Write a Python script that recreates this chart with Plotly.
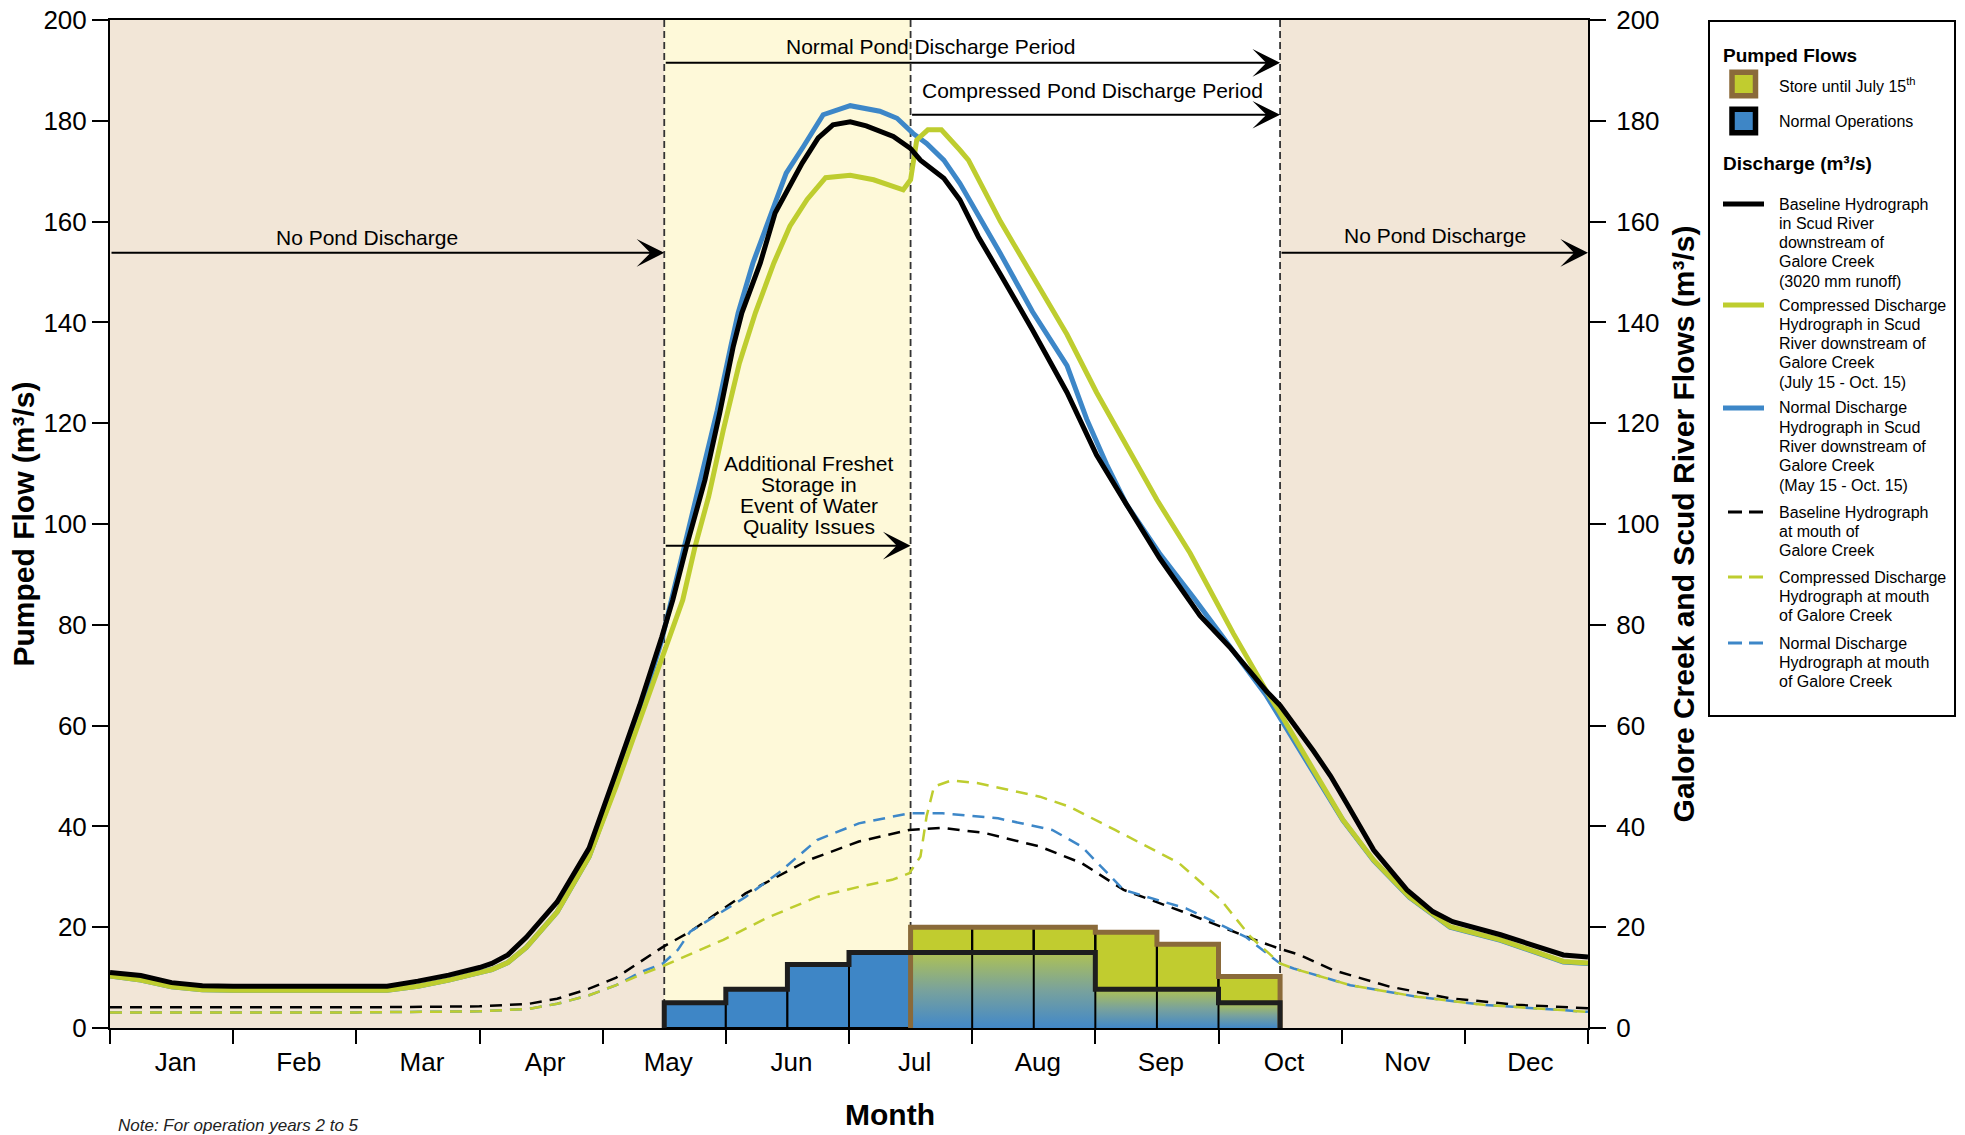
import plotly.graph_objects as go

FONT = "Liberation Sans, Arial, Helvetica, sans-serif"

# ------------------------------------------------------------------ data
months = ["Jan", "Feb", "Mar", "Apr", "May", "Jun", "Jul", "Aug", "Sep", "Oct", "Nov", "Dec"]

# month index scale: 0 = 1 Jan, 12 = 31 Dec
may15, jul15, oct15 = 4.5, 6.5, 9.5

# pumped flows in half-month bins (m3/s)
pump_bin_start = [4.5, 5.0, 5.5, 6.0, 6.5, 7.0, 7.5, 8.0, 8.5, 9.0]
pump_bin_width = 0.5
normal_ops = [5.0, 7.7, 12.6, 15.0, 15.0, 15.0, 15.0, 7.7, 7.7, 5.0]
store_jul15 = [0.0, 0.0, 0.0, 0.0, 20.0, 20.0, 20.0, 19.0, 16.6, 10.2]

# Scud River downstream of Galore Creek
base_scud_t = [0, 0.25, 0.5, 0.75, 1.0, 2.25, 2.5, 2.75, 3.0, 3.1, 3.23, 3.38, 3.63, 3.89, 4.11, 4.3,
               4.48, 4.57, 4.68, 4.83, 4.95, 5.06, 5.13, 5.28, 5.4, 5.51, 5.62, 5.75, 5.87, 6.01, 6.14,
               6.36, 6.5, 6.58, 6.77, 6.9, 7.05, 7.23, 7.49, 7.77, 8.01, 8.25, 8.52, 8.85, 9.09, 9.39,
               9.5, 9.77, 9.91, 10.04, 10.26, 10.53, 10.74, 10.9, 11.29, 11.8, 12.0]
base_scud_q = [11.0, 10.4, 9.0, 8.4, 8.3, 8.3, 9.3, 10.5, 12.0, 12.8, 14.5, 18.0, 25.0, 35.7, 50.8, 64.0,
               77.6, 85.0, 95.5, 108.7, 122.0, 135.2, 141.9, 151.8, 161.7, 166.9, 171.6, 176.6, 179.2, 179.8, 179.0,
               176.9, 174.5, 172.2, 168.6, 164.3, 157.0, 149.5, 138.5, 126.1, 113.7, 104.0, 93.3, 81.8, 75.6, 66.8,
               64.0, 55.0, 50.0, 44.6, 35.3, 27.4, 23.1, 21.1, 18.5, 14.5, 14.1]

comp_scud_t = [0, 0.25, 0.5, 0.75, 1.0, 2.25, 2.5, 2.75, 3.0, 3.1, 3.23, 3.38, 3.63, 3.89, 4.11, 4.3,
               4.48, 4.65, 4.75, 4.86, 4.98, 5.11, 5.24, 5.39, 5.52, 5.66, 5.81, 6.01, 6.2, 6.36, 6.44,
               6.5, 6.55, 6.64, 6.75, 6.9, 6.97, 7.23, 7.49, 7.77, 8.01, 8.25, 8.5, 8.77, 9.12, 9.39,
               9.5, 9.8, 10.01, 10.26, 10.55, 10.88, 11.29, 11.8, 12.0]
comp_scud_q = [10.3, 9.5, 8.2, 7.6, 7.5, 7.5, 8.3, 9.5, 11.0, 11.6, 13.0, 16.0, 23.0, 34.0, 48.0, 61.0,
               73.0, 84.9, 95.5, 105.4, 118.7, 131.9, 141.9, 151.8, 159.1, 164.4, 168.7, 169.2, 168.3, 167.1, 166.3,
               168.3, 176.2, 178.2, 178.2, 174.2, 172.2, 160.0, 149.2, 137.6, 126.1, 115.5, 104.8, 94.2, 78.3, 66.8,
               62.5, 50.0, 41.3, 33.3, 26.0, 20.1, 17.5, 13.2, 12.9]

norm_scud_t = [0, 0.25, 0.5, 0.75, 1.0, 2.25, 2.5, 2.75, 3.0, 3.1, 3.23, 3.38, 3.63, 3.89, 4.11, 4.3,
               4.48, 4.57, 4.67, 4.81, 4.93, 5.04, 5.1, 5.22, 5.37, 5.49, 5.63, 5.79, 6.01, 6.25, 6.39,
               6.52, 6.63, 6.77, 6.9, 7.12, 7.23, 7.49, 7.77, 7.93, 8.09, 8.25, 8.52, 8.8, 9.12, 9.39,
               9.5, 9.8, 10.01, 10.26, 10.55, 10.88, 11.29, 11.8, 12.0]
norm_scud_q = [10.3, 9.5, 8.2, 7.6, 7.5, 7.5, 8.3, 9.5, 11.0, 11.6, 13.0, 16.0, 23.0, 34.0, 48.5, 62.5,
               77.0, 86.0, 97.0, 110.0, 122.5, 135.2, 141.9, 151.8, 161.7, 169.6, 174.9, 181.2, 183.0, 181.9, 180.5,
               177.5, 175.5, 172.2, 167.6, 158.3, 153.6, 142.1, 131.4, 120.8, 111.9, 104.0, 94.2, 85.3, 74.8, 65.9,
               61.5, 49.8, 41.2, 33.2, 25.9, 20.0, 17.4, 13.1, 12.8]

# mouth of Galore Creek
base_mouth_t = [0, 1, 2, 3, 3.4, 3.63, 3.89, 4.11, 4.3, 4.49, 4.71, 5.16, 5.67, 6.08, 6.49, 6.76, 7.1,
                7.55, 7.89, 8.23, 8.74, 9.26, 9.5, 9.66, 9.93, 10.39, 10.88, 11.42, 12.0]
base_mouth_q = [4.1, 4.1, 4.1, 4.3, 4.8, 5.8, 7.8, 10.0, 13.0, 16.1, 19.1, 26.7, 33.3, 37.0, 39.3, 39.7, 38.7,
                36.0, 32.7, 27.4, 22.8, 17.8, 15.7, 14.5, 11.5, 8.2, 5.9, 4.6, 3.9]

comp_mouth_t = [0, 1, 2, 3, 3.4, 3.63, 3.89, 4.11, 4.3, 4.49, 4.98, 5.33, 5.74, 6.08, 6.35, 6.49, 6.58,
                6.63, 6.69, 6.83, 7.04, 7.55, 7.79, 8.16, 8.68, 9.02, 9.26, 9.5, 9.61, 10.07, 10.61, 11.15, 12.0]
comp_mouth_q = [3.1, 3.1, 3.1, 3.3, 3.8, 4.8, 6.5, 8.5, 10.5, 12.3, 17.5, 21.8, 26.0, 28.0, 29.4, 30.7, 34.0,
                42.0, 47.9, 49.1, 48.6, 45.9, 43.9, 39.3, 32.7, 25.4, 18.1, 12.8, 11.8, 8.5, 6.2, 4.6, 3.2]

norm_mouth_t = [0, 1, 2, 3, 3.4, 3.63, 3.89, 4.11, 4.3, 4.49, 4.61, 4.71, 5.16, 5.43, 5.74, 6.08, 6.49,
                6.76, 7.21, 7.65, 7.89, 8.23, 8.74, 9.22, 9.5, 9.61, 10.07, 10.61, 11.15, 12.0]
norm_mouth_q = [3.1, 3.1, 3.1, 3.3, 3.8, 4.8, 6.5, 8.5, 11.0, 12.8, 15.5, 19.1, 26.0, 30.8, 37.3, 40.6, 42.6,
                42.6, 41.6, 39.3, 36.0, 27.4, 23.7, 18.1, 12.8, 11.8, 8.5, 6.2, 4.6, 3.2]

# ------------------------------------------------------------------ styles
TAN = "#F2E6D7"
YELLOW = "#FEF9D9"
BLUE = "#3D87C8"
GREEN = "#BECD2F"
GREEN_BAR = "#C1CC2F"
BLUE_BAR = "#3E86C6"
BROWN = "#8A6A3A"
GRAD = [[0.0, "#4288C9"], [0.5, "#79A29C"], [1.0, "#AFC253"]]

W, H = 1965, 1135
ML, MR, MT, MB = 110, 377, 20, 107
PW, PH = W - ML - MR, H - MT - MB


def px(x):
    return (x - ML) / PW


def py(y):
    return (H - MB - y) / PH


fig = go.Figure()

# ------------------------------------------------------------------ pumped flows (left axis)
w = pump_bin_width
store_idx = [i for i, v in enumerate(store_jul15) if v > 0]
blue_idx = [i for i, v in enumerate(store_jul15) if v == 0]

fig.add_trace(go.Bar(
    x=[pump_bin_start[i] + w / 2 for i in store_idx], y=[store_jul15[i] for i in store_idx],
    width=w, marker=dict(color=GREEN_BAR, line=dict(color="black", width=2)),
    name="Store until July 15th", showlegend=False))
fig.add_trace(go.Bar(
    x=[pump_bin_start[i] + w / 2 for i in blue_idx], y=[normal_ops[i] for i in blue_idx],
    width=w, marker=dict(color=BLUE_BAR, line=dict(color="black", width=2)),
    name="Normal Operations", showlegend=False))

# gradient part of normal operations where it overlaps stored flow
runs = []
for i in store_idx:
    if runs and runs[-1][2] == normal_ops[i]:
        runs[-1][1] = pump_bin_start[i] + w
    else:
        runs.append([pump_bin_start[i], pump_bin_start[i] + w, normal_ops[i]])
for x0, x1, v in runs:
    fig.add_trace(go.Scatter(
        x=[x0, x1], y=[v, v], mode="lines", line=dict(width=0), fill="tozeroy",
        fillgradient=dict(type="vertical", colorscale=GRAD),
        hoverinfo="skip", showlegend=False))

# thin dividers between half-month bins in the stored-flow block
div_x, div_y = [], []
for k in range(1, len(store_idx)):
    i = store_idx[k]
    top = max(store_jul15[i - 1], store_jul15[i])
    div_x += [pump_bin_start[i], pump_bin_start[i], None]
    div_y += [0, top, None]
fig.add_trace(go.Scatter(x=div_x, y=div_y, mode="lines", line=dict(color="black", width=2),
                         hoverinfo="skip", showlegend=False))


def step_outline(idx, vals):
    xs = [pump_bin_start[idx[0]]] + [pump_bin_start[i] for i in idx] + [pump_bin_start[idx[-1]] + w] * 2
    ys = [0] + [vals[i] for i in idx] + [vals[idx[-1]], 0]
    return xs, ys


sx, sy = step_outline(store_idx, store_jul15)
fig.add_trace(go.Scatter(x=sx, y=sy, mode="lines", line=dict(color=BROWN, width=5, shape="hv"),
                         hoverinfo="skip", showlegend=False))
nx, ny = step_outline(list(range(len(normal_ops))), normal_ops)
fig.add_trace(go.Scatter(x=nx, y=ny, mode="lines", line=dict(color="#1E1E1E", width=5, shape="hv"),
                         hoverinfo="skip", showlegend=False))

# ------------------------------------------------------------------ discharge hydrographs (right axis)
DASH = "12px,8px"
for t, q, c, nm in [
    (base_mouth_t, base_mouth_q, "black", "Baseline Hydrograph at mouth of Galore Creek"),
    (norm_mouth_t, norm_mouth_q, BLUE, "Normal Discharge Hydrograph at mouth of Galore Creek"),
    (comp_mouth_t, comp_mouth_q, GREEN, "Compressed Discharge Hydrograph at mouth of Galore Creek"),
]:
    fig.add_trace(go.Scatter(x=t, y=q, yaxis="y2", mode="lines", name=nm,
                             line=dict(color=c, width=2.5, dash=DASH), showlegend=False))

for t, q, c, nm in [
    (norm_scud_t, norm_scud_q, BLUE, "Normal Discharge Hydrograph in Scud River"),
    (comp_scud_t, comp_scud_q, GREEN, "Compressed Discharge Hydrograph in Scud River"),
    (base_scud_t, base_scud_q, "black", "Baseline Hydrograph in Scud River"),
]:
    fig.add_trace(go.Scatter(x=t, y=q, yaxis="y2", mode="lines", name=nm,
                             line=dict(color=c, width=5), showlegend=False))

# ------------------------------------------------------------------ background periods
shapes = []
for x0, x1, col in [(0, may15, TAN), (may15, jul15, YELLOW), (oct15, 12, TAN)]:
    shapes.append(dict(type="rect", xref="x", yref="paper", x0=x0, x1=x1, y0=0, y1=1,
                       fillcolor=col, line=dict(width=0), layer="below"))
for xv in [may15, jul15, oct15]:
    shapes.append(dict(type="line", xref="x", yref="paper", x0=xv, x1=xv, y0=0, y1=1,
                       line=dict(color="#333333", width=1.8, dash="7px,4px"), layer="below"))

# ------------------------------------------------------------------ annotations in plot
ann = []
TXT = dict(family=FONT, size=21, color="black")


def arrow(x_tail, x_head, yv):
    ann.append(dict(x=x_head, y=yv, ax=x_tail, ay=yv, xref="x", yref="y", axref="x", ayref="y",
                    text="", showarrow=True, arrowhead=3, arrowsize=2.3, arrowwidth=2,
                    arrowcolor="black", standoff=0))


no_pond_y, normal_y, compressed_y, freshet_y = 153.8, 191.5, 181.2, 95.7
arrow(0, may15, no_pond_y)
arrow(oct15, 12, no_pond_y)
arrow(may15, oct15, normal_y)
arrow(jul15, oct15, compressed_y)
arrow(may15, jul15, freshet_y)

for text, xv, yv in [
    ("No Pond Discharge", 2.09, 156.9),
    ("No Pond Discharge", 10.76, 157.2),
    ("Normal Pond Discharge Period", 6.66, 194.7),
    ("Compressed Pond Discharge Period", 7.98, 186.1),
]:
    ann.append(dict(x=xv, y=yv, xref="x", yref="y", text=text, showarrow=False,
                    font=TXT, xanchor="center", yanchor="middle"))

for k, line in enumerate(["Additional Freshet", "Storage in", "Event of Water", "Quality Issues"]):
    ann.append(dict(x=5.675, y=112.1 - k * 4.17, xref="x", yref="y", text=line, showarrow=False,
                    font=TXT, xanchor="center", yanchor="middle"))

# axis title for x and the note
ann.append(dict(x=px(890), y=py(1114), xref="paper", yref="paper", text="Month", showarrow=False,
                font=dict(family=FONT, size=30, color="black", weight="bold"),
                xanchor="center", yanchor="middle"))
ann.append(dict(x=px(116), y=py(1114), xref="paper", yref="paper",
                text="<i>Note: For operation years 2 to 5</i>", showarrow=False,
                font=dict(family=FONT, size=17, color="#222222"), xanchor="left", yanchor="top"))

# ------------------------------------------------------------------ legend (drawn)
shapes.append(dict(type="rect", xref="paper", yref="paper", x0=px(1709), x1=px(1955),
                   y0=py(716), y1=py(21), line=dict(color="black", width=2), fillcolor="white",
                   layer="above"))
HEAD = dict(family=FONT, size=19, color="black", weight="bold")
LEGF = dict(family=FONT, size=16, color="black")
for text, yc in [("Pumped Flows", 56), ("Discharge (m³/s)", 163)]:
    ann.append(dict(x=px(1721), y=py(yc), xref="paper", yref="paper", text=text, showarrow=False,
                    font=HEAD, xanchor="left", yanchor="middle"))

for fill, edge, yc, label in [(GREEN_BAR, BROWN, 84, "Store until July 15<sup>th</sup>"),
                              (BLUE_BAR, "black", 121, "Normal Operations")]:
    shapes.append(dict(type="rect", xref="paper", yref="paper", x0=px(1732), x1=px(1755.5),
                       y0=py(yc + 11.75), y1=py(yc - 11.75), fillcolor=fill,
                       line=dict(color=edge, width=5.5), layer="above"))
    ann.append(dict(x=px(1777), y=py(yc + 1), xref="paper", yref="paper", text=label, showarrow=False,
                    font=LEGF, xanchor="left", yanchor="middle"))

legend_items = [
    ("black", "solid", 204, ["Baseline Hydrograph", "in Scud River", "downstream of", "Galore Creek",
                             "(3020 mm runoff)"]),
    (GREEN, "solid", 305, ["Compressed Discharge", "Hydrograph in Scud", "River downstream of",
                           "Galore Creek", "(July 15 - Oct. 15)"]),
    (BLUE, "solid", 408, ["Normal Discharge", "Hydrograph in Scud", "River downstream of",
                          "Galore Creek", "(May 15 - Oct. 15)"]),
    ("black", "dash", 512, ["Baseline Hydrograph", "at mouth of", "Galore Creek"]),
    (GREEN, "dash", 577, ["Compressed Discharge", "Hydrograph at mouth", "of Galore Creek"]),
    (BLUE, "dash", 643, ["Normal Discharge", "Hydrograph at mouth", "of Galore Creek"]),
]
for col, style, yc, lines in legend_items:
    if style == "solid":
        shapes.append(dict(type="line", xref="paper", yref="paper", x0=px(1723), x1=px(1764),
                           y0=py(yc), y1=py(yc), line=dict(color=col, width=5), layer="above"))
    else:
        shapes.append(dict(type="line", xref="paper", yref="paper", x0=px(1728), x1=px(1764),
                           y0=py(yc), y1=py(yc), line=dict(color=col, width=3, dash="14px,7px"),
                           layer="above"))
    for k, line in enumerate(lines):
        ann.append(dict(x=px(1777), y=py(yc + k * 19.3), xref="paper", yref="paper", text=line,
                        showarrow=False, font=LEGF, xanchor="left", yanchor="middle"))

# ------------------------------------------------------------------ axes & layout
TICKF = dict(family=FONT, size=26, color="black")
yax = dict(range=[0, 200], tickmode="linear", tick0=0, dtick=20, ticks="outside", ticklen=16,
           tickwidth=2, tickcolor="black", showline=True, linewidth=2, linecolor="black",
           showgrid=False, zeroline=False, tickfont=TICKF, automargin=False)

fig.update_layout(
    width=W, height=H, autosize=False,
    margin=dict(l=ML, r=MR, t=MT, b=MB),
    paper_bgcolor="white", plot_bgcolor="white",
    barmode="overlay", showlegend=False,
    font=dict(family=FONT, color="black"),
    xaxis=dict(range=[0, 12], tickmode="array", tickvals=[i + 0.5 for i in range(len(months))],
               ticktext=months, ticks="outside", ticklen=10, tickcolor="rgba(0,0,0,0)",
               ticklabelshift=4,
               minor=dict(tickmode="array", tickvals=list(range(len(months) + 1)), ticks="outside",
                          ticklen=14, tickwidth=2, tickcolor="black"),
               showline=True, linewidth=2, linecolor="black", mirror=True, automargin=False,
               showgrid=False, zeroline=False, tickfont=TICKF),
    yaxis=dict(**yax, title=dict(text="Pumped Flow (m³/s)", standoff=0,
                                 font=dict(family=FONT, size=30, color="black", weight="bold"))),
    yaxis2=dict(**yax, overlaying="y", side="right", ticklabelstandoff=5,
                title=dict(text="Galore Creek and Scud River Flows (m³/s)", standoff=14,
                           font=dict(family=FONT, size=30, color="black", weight="bold"))),
    shapes=shapes,
    annotations=ann,
)

fig.write_html("out.html")
